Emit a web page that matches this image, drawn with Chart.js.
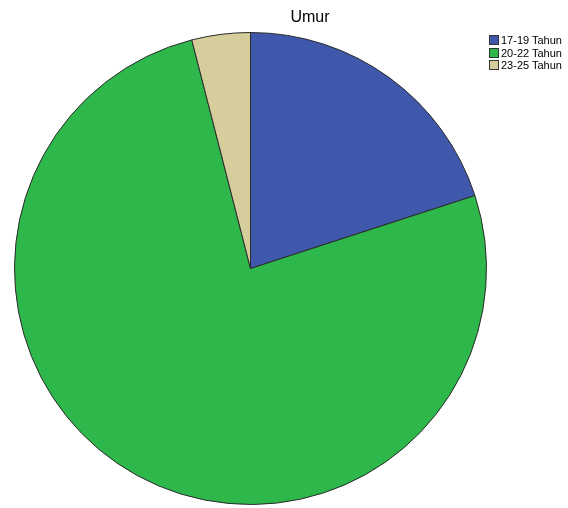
<!DOCTYPE html>
<html>
<head>
<meta charset="utf-8">
<script src="https://cdn.jsdelivr.net/npm/chart.js@4/dist/chart.umd.min.js"></script>
<style>
html,body{margin:0;padding:0;background:#fff;}
#wrap{position:relative;width:568px;height:508px;overflow:hidden;}
#title{position:absolute;left:0;width:620px;top:8px;text-align:center;font-family:"Liberation Sans",Arial,sans-serif;font-size:16px;color:#000;}
#legend{position:absolute;left:489px;top:34px;font-family:"Liberation Sans",Arial,sans-serif;font-size:11px;color:#000;}
.item{display:flex;align-items:center;height:12.5px;white-space:nowrap;}
.box{width:8px;height:8px;border:1px solid #333;margin-right:2px;box-sizing:content-box;}
canvas{position:absolute;left:0;top:0;}
</style>
</head>
<body>
<div id="wrap">
<canvas id="c" width="568" height="508"></canvas>
<div id="title">Umur</div>
<div id="legend"></div>
</div>
<script>
const categories = ["17-19 Tahun", "20-22 Tahun", "23-25 Tahun"];
const counts = [10, 38, 2];
const colors = ["#3f58ab", "#2eb84b", "#d5cd9b"];

const legend = document.getElementById('legend');
categories.forEach((c, i) => {
  const d = document.createElement('div');
  d.className = 'item';
  const b = document.createElement('span');
  b.className = 'box';
  b.style.background = colors[i];
  const t = document.createElement('span');
  t.textContent = c;
  d.appendChild(b); d.appendChild(t);
  legend.appendChild(d);
});

new Chart(document.getElementById('c'), {
  type: 'pie',
  data: {
    labels: categories,
    datasets: [{
      data: counts,
      backgroundColor: colors,
      borderColor: '#2a2a2a',
      borderWidth: 1
    }]
  },
  options: {
    responsive: false,
    animation: false,
    layout: { padding: { left: 14, right: 81, top: 32, bottom: 3 } },
    plugins: {
      legend: { display: false },
      title: { display: false },
      tooltip: { enabled: false }
    }
  }
});
</script>
</body>
</html>
